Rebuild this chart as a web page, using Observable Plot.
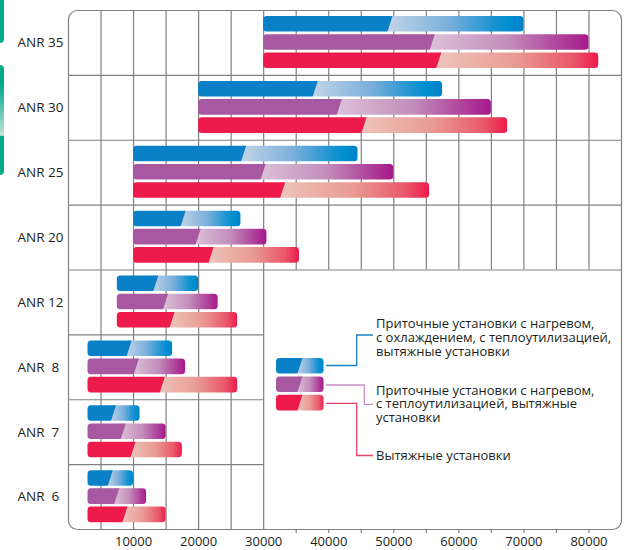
<!DOCTYPE html>
<html><head><meta charset="utf-8">
<script src="https://cdn.jsdelivr.net/npm/d3@7"></script>
<script src="https://cdn.jsdelivr.net/npm/@observablehq/plot@0.6"></script>
<style>
html,body{margin:0;padding:0;background:#fff;}
#wrap{position:relative;width:634px;height:550px;overflow:hidden;}
#wrap svg{position:absolute;left:0;top:0;}
.tab{position:absolute;left:0;width:4px;border-radius:0 4px 4px 0;background:#00a98c;}
</style></head><body>
<div id="wrap">
  <div class="tab" style="top:-6px;height:49px"></div>
  <div class="tab" style="top:65px;height:110px;background:linear-gradient(#00a98c 0%,#00a98c 18%,#bfe2d6 64%,#00a98c 64.5%,#00a98c 100%)"></div>
</div>
<script>
// ---- data ----
const models = ["ANR 35", "ANR 30", "ANR 25", "ANR 20", "ANR 12", "ANR 8", "ANR 7", "ANR 6"];
const starts = [30000, 20000, 10000, 10000, 7500, 3000, 3000, 3000];
const blueMid = [49500, 38000, 27000, 17700, 13500, 9400, 7000, 6500];
const blueEnd = [70000, 57500, 44500, 26500, 20000, 16000, 11000, 10000];
const purpleMid = [56000, 41700, 30000, 20000, 15000, 10500, 8500, 7500];
const purpleEnd = [80000, 65000, 50000, 30500, 23000, 18000, 15000, 12000];
const redMid = [57000, 45500, 33000, 22000, 16000, 14500, 10000, 8750];
const redEnd = [81500, 67500, 55500, 35500, 26000, 26000, 17500, 15000];
const seriesLabels = [
  ["Приточные установки с нагревом,", "с охлаждением, с теплоутилизацией,", "вытяжные установки"],
  ["Приточные установки с нагревом,", "с теплоутилизацией, вытяжные", "установки"],
  ["Вытяжные установки"]
];
const xLabelTicks = [10000, 20000, 30000, 40000, 50000, 60000, 70000, 80000];
const xMax = 85000, xStep = 5000, xSplit = 30000, rowSplit = 4;

// ---- styles ----
const FONT = '"Open Sans", sans-serif';
const TEXT = "#231f20";
const GRID = "#808080";
const series = [
  {solid: "#0a81c7", grad: "gBlue", line: "#1b80c4", mid: blueMid, end: blueEnd,
   stops: [[0, "#c3d5e8"], [0.45, "#7cb0db"], [0.78, "#1b93d2"], [0.88, "#0090d0"], [1, "#0082c8"]]},
  {solid: "#a858a1", grad: "gPurple", line: "#c98fc8", mid: purpleMid, end: purpleEnd,
   stops: [[0, "#dcc3d9"], [0.5, "#c38dbb"], [0.85, "#ad3b98"], [1, "#a6198c"]]},
  {solid: "#ee1a4b", grad: "gRed", line: "#e8436b", mid: redMid, end: redEnd,
   stops: [[0, "#edc5bc"], [0.5, "#e99a92"], [0.85, "#e9566a"], [1, "#ee1a4b"]]}
];
const nRows = models.length;
const rowPx = (529 - 10) / nRows;
const barOff = [6, 24.2, 42.4].map(v => v / rowPx);
const barH = 15.6 / rowPx;

const bars = series.map((s, si) => models.map((m, i) => ({
  model: m, start: starts[i], mid: s.mid[i], end: s.end[i],
  y1: i + barOff[si], y2: i + barOff[si] + barH
})));

const xGrid = d3.range(xStep, xMax, xStep);
const vGrid = xGrid.map(x => ({x, y1: 0, y2: x <= xSplit ? nRows : rowSplit}));
const stubs = xGrid.filter(x => x > xSplit);
const hGrid = d3.range(1, nRows).map(r => ({y: r, x1: 0, x2: r <= rowSplit ? xMax : xSplit}));
const label = m => m.replace(/^ANR (\d)$/, "ANR\u00a0\u00a0$1");

const marks = [
  Plot.ruleX(vGrid, {x: "x", y1: "y1", y2: "y2", stroke: GRID, strokeWidth: 1.2}),
  Plot.ruleX(stubs, {x: d => d, y1: nRows, y2: nRows + 4 / rowPx, stroke: GRID, strokeWidth: 1.2}),
  Plot.ruleY(hGrid, {y: "y", x1: "x1", x2: "x2", stroke: GRID, strokeWidth: 1.2}),
  Plot.frame({stroke: GRID, strokeWidth: 1.2, rx: 9})
];
series.forEach((s, si) => {
  marks.push(Plot.rect(bars[si], {x1: "mid", x2: "end", y1: "y1", y2: "y2", fill: `url(#${s.grad})`, rx: 3.5, insetLeft: -4}));
  marks.push(Plot.rect(bars[si], {x1: "start", x2: "mid", y1: "y1", y2: "y2", fill: s.solid, ariaDescription: "solid"}));
});
marks.push(Plot.text(models, {y: (d, i) => i + 0.5, text: label, frameAnchor: "left", textAnchor: "start", dx: -51, fontSize: 13.5, fill: TEXT}));
marks.push(Plot.axisX({ticks: xLabelTicks, tickSize: 0, tickPadding: 7.5, tickFormat: d => String(d), fontSize: 13, fill: TEXT}));

const plot = Plot.plot({
  width: 634, height: 550,
  marginLeft: 68, marginRight: 13, marginTop: 10, marginBottom: 21,
  x: {domain: [0, xMax]},
  y: {domain: [0, nRows], range: [10, 529], axis: null},
  style: {fontFamily: FONT, background: "transparent", color: TEXT},
  marks
});
document.getElementById("wrap").appendChild(plot);

const svg = d3.select(plot);
const defs = svg.insert("defs", ":first-child");
series.forEach(s => {
  const g = defs.append("linearGradient").attr("id", s.grad).attr("x1", 0).attr("x2", 1).attr("y1", 0).attr("y2", 0);
  s.stops.forEach(([o, c]) => g.append("stop").attr("offset", o).attr("stop-color", c));
});

// slanted right edge + rounded left corners for solid segments
const SL = 2.5, R = 3.5;
function solidPath(x, y, w, h) {
  return `M${x + R},${y}H${x + w + SL}L${x + w - SL},${y + h}H${x + R}Q${x},${y + h} ${x},${y + h - R}V${y + R}Q${x},${y} ${x + R},${y}Z`;
}
svg.selectAll('g[aria-description="solid"] rect').each(function () {
  const r = d3.select(this);
  const x = +r.attr("x"), y = +r.attr("y"), w = +r.attr("width"), h = +r.attr("height");
  d3.select(this.parentNode).insert("path", () => this)
    .attr("d", solidPath(x, y, w, h)).attr("fill", r.attr("fill"));
  r.remove();
});

// legend
const leg = svg.append("g").attr("font-family", FONT).attr("font-size", 13)
  .attr("fill", TEXT).attr("text-anchor", "start");
const swX = 276, swMid = 300, swEnd = 323.5, swY = [358, 376.4, 394.8], swH = 15.6;
const conn = [
  `M326,365.5H356.7V335H373`,
  `M326,385H364.3V404.3H373`,
  `M326,403.3H356.7V455.5H373`
];
const baselines = [[327.5, 341.5, 355.5], [394.5, 408.3, 422], [459.5]];
series.forEach((s, si) => {
  const y = swY[si];
  leg.append("rect").attr("x", swMid - 4).attr("y", y).attr("width", swEnd - swMid + 4).attr("height", swH)
    .attr("rx", R).attr("fill", `url(#${s.grad})`);
  leg.append("path").attr("d", solidPath(swX, y, swMid - swX, swH)).attr("fill", s.solid);
  leg.append("path").attr("d", conn[si]).attr("fill", "none").attr("stroke", s.line).attr("stroke-width", 1.3);
  seriesLabels[si].forEach((t, li) => {
    leg.append("text").attr("x", 376).attr("y", baselines[si][li]).text(t);
  });
});
</script>
</body></html>
